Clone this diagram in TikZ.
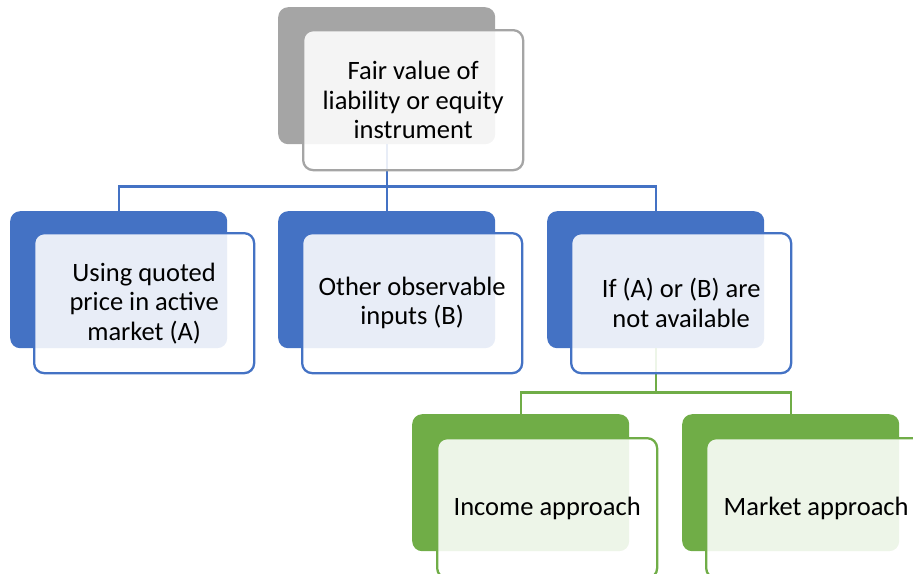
\documentclass[tikz,border=0pt]{standalone}
\usepackage{fontspec}
\setmainfont{Carlito}
\usetikzlibrary{positioning}

\definecolor{boxgray}{HTML}{A5A5A5}
\definecolor{boxblue}{HTML}{4472C4}
\definecolor{boxgreen}{HTML}{70AD47}

\begin{document}
\begin{tikzpicture}[x=1pt, y=-1pt]
\tikzset{back/.style={fill=#1, rounded corners=10pt, inner sep=0pt,
  minimum width=217pt, minimum height=137pt, anchor=north west}}
\tikzset{front/.style={draw=#1, line width=2.3pt, fill=white, fill opacity=0.88,
  text opacity=1, rounded corners=10pt, inner sep=0pt, align=center,
  minimum width=220pt, minimum height=140pt,
  font=\fontsize{26.5}{29.5}\selectfont}}
\tikzset{link/.style={draw=#1, line width=2.3pt}}
\clip (0,0) rectangle (913,573);
% back boxes
\node[back=boxgray] (fair) at (278,7) {};
\node[back=boxblue] (quoted) at (10,211) {};
\node[back=boxblue] (observable) at (278,211) {};
\node[back=boxblue] (notavail) at (547,211) {};
\node[back=boxgreen] (income) at (412,414) {};
\node[back=boxgreen] (market) at (682,414) {};
% connectors
\path (fair.south) ++(0,42) coordinate (split);
\draw[link=boxblue] (fair.south) -- (split) -| (quoted.north);
\draw[link=boxblue] (split) -| (observable.north);
\draw[link=boxblue] (split) -| (notavail.north);
\path (notavail.south) ++(0,44) coordinate (splitb);
\draw[link=boxgreen] (notavail.south) -- (splitb) -| (income.north);
\draw[link=boxgreen] (splitb) -| (market.north);
% front boxes
\node[front=boxgray, below right=22pt and 24pt of fair.north west] (fairtext)
  {Fair value of\\liability or equity\\instrument};
\node[front=boxblue, below right=21pt and 23pt of quoted.north west] (quotedtext)
  {Using quoted\\price in active\\market (A)};
\node[front=boxblue, below right=21pt and 23pt of observable.north west] (observabletext)
  {Other observable\\inputs (B)};
\node[front=boxblue, below right=21pt and 23pt of notavail.north west] (notavailtext)
  {If (A) or (B) are\\not available};
\node[front=boxgreen, below right=23pt and 24pt of income.north west] (incometext)
  {Income approach};
\node[front=boxgreen, below right=23pt and 23pt of market.north west] (markettext)
  {Market approach};
\end{tikzpicture}
\end{document}
